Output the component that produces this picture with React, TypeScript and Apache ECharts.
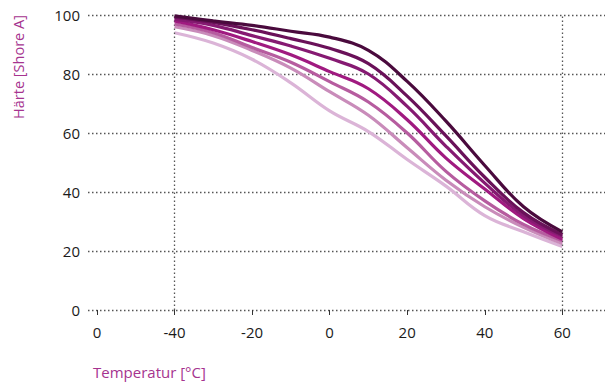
import React, { useEffect, useRef } from "react";
import * as echarts from "echarts";

const temps = [-40, -30, -20, -10, 0, 10, 20, 30, 40, 50, 60];
const xTickValues = [-60, -40, -20, 0, 20, 40, 60];
const xTickLabels = ["0", "-40", "-20", "0", "20", "40", "60"];
const markerTemps = [-40, 60];

const seriesNames = ["S1", "S2", "S3", "S4", "S5", "S6", "S7"];
const s1 = [99.7, 98, 96.5, 94.5, 92.5, 88, 77.5, 64, 49, 35, 26.5];
const s2 = [99.3, 97.5, 95, 92, 88.7, 83.5, 72.5, 59, 45, 33, 25.5];
const s3 = [98.5, 96.5, 93, 89.5, 85.3, 80, 69, 55.5, 43, 32, 25];
const s4 = [98, 95, 91, 86.5, 80.8, 75, 64.5, 51.5, 41, 31, 24];
const s5 = [97, 94, 89, 84, 77.4, 70.5, 60, 47, 37, 29, 23.5];
const s6 = [96, 93, 88, 82, 74, 66, 55, 44, 35, 28, 22.5];
const s7 = [94, 90.5, 85, 77, 67.5, 60.5, 51, 42, 32, 26.5, 21.5];
const allSeries = [s7, s6, s5, s4, s3, s2, s1];
const colors = ["#dbb4d7", "#c98cba", "#b65c9f", "#a01a80", "#861a72", "#6a1159", "#4a0a3d"];

const FONT = "'Open Sans', 'Noto Sans', sans-serif";
const MAGENTA = "#a6338f";

export default function App() {
  const ref = useRef<HTMLDivElement>(null);
  useEffect(() => {
    document.body.style.margin = "0";
    const chart = echarts.init(ref.current!, null, { renderer: "svg" });
    const series: any[] = allSeries.map((vals, i) => ({
      type: "line",
      name: seriesNames[6 - i],
      data: temps.map((t, j) => [t, vals[j]]),
      smooth: 0.4,
      symbol: "none",
      lineStyle: { width: 3.2, color: colors[i] },
      z: 3 + i,
    }));
    series.push({
      type: "line",
      data: [],
      markLine: {
        silent: true,
        symbol: "none",
        label: { show: false },
        lineStyle: { type: [1.5, 2.5], color: "#555", width: 1.3 },
        data: markerTemps.map((t) => [
          { coord: [t, 0] },
          { coord: [t, 100] },
        ]),
      },
    });
    chart.setOption({
      animation: false,
      textStyle: { fontFamily: FONT },
      grid: { left: 88, right: 0, top: 15, bottom: 74, containLabel: false },
      xAxis: {
        type: "value",
        min: -62.3,
        max: 71,
        offset: 3,
        axisLine: { show: false },
        splitLine: { show: false },
        axisTick: {
          show: true,
          length: 5,
          customValues: xTickValues,
          lineStyle: { color: "#333", width: 1 },
        },
        axisLabel: {
          customValues: xTickValues,
          margin: 11,
          fontSize: 15,
          color: "#1a1a1a",
          fontFamily: FONT,
          formatter: (v: number) => xTickLabels[xTickValues.indexOf(v)] ?? "",
        },
      },
      yAxis: {
        type: "value",
        min: 0,
        max: 100,
        interval: 20,
        axisLine: { show: false },
        axisTick: { show: false },
        axisLabel: { fontSize: 15, color: "#1a1a1a", margin: 8, fontFamily: FONT },
        splitLine: {
          show: true,
          lineStyle: { type: [1.5, 2.5], color: "#555", width: 1.3 },
        },
      },
      graphic: [
        {
          type: "text",
          x: 18,
          y: 67,
          rotation: Math.PI / 2,
          style: {
            text: "Härte [Shore A]",
            fill: MAGENTA,
            font: `14.5px ${FONT}`,
            textAlign: "center",
            textVerticalAlign: "middle",
          },
        },
        {
          type: "text",
          x: 93,
          y: 372,
          style: {
            text: "Temperatur [°C]",
            fill: MAGENTA,
            font: `15px ${FONT}`,
            textAlign: "left",
            textVerticalAlign: "middle",
          },
        },
      ],
      series,
    });
    return () => chart.dispose();
  }, []);
  return <div ref={ref} style={{ width: 605, height: 384 }} />;
}
